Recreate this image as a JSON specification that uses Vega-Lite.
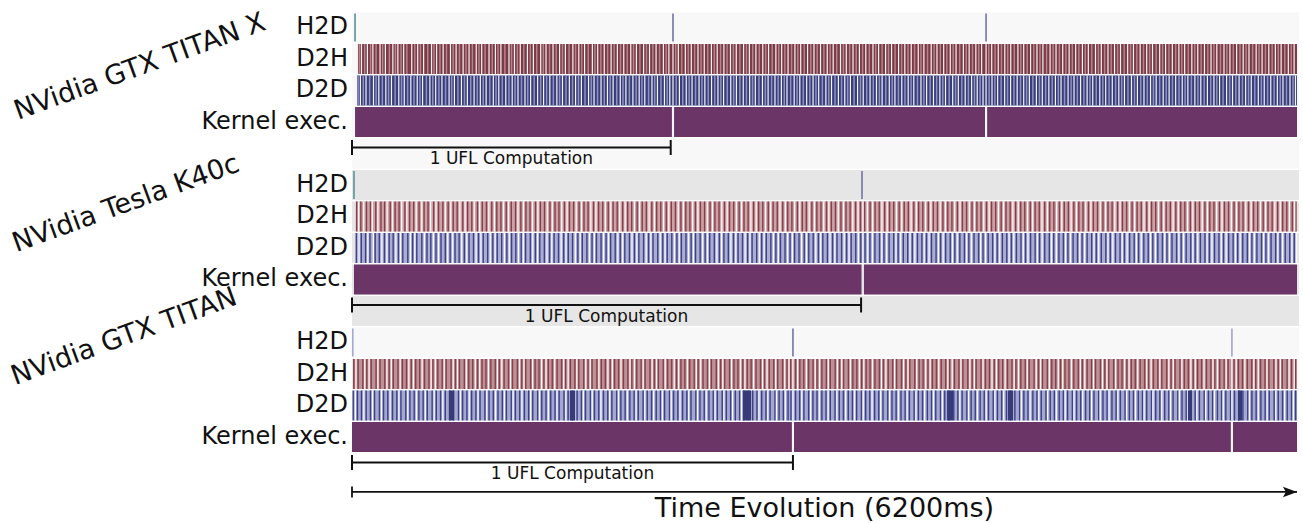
{
"$schema":"https://vega.github.io/schema/vega-lite/v6.json",
"width":945,"height":523,
"autosize":{"type":"none"},
"padding":{"left":352,"top":0,"right":6,"bottom":0},
"background":"white",
"config":{"view":{"stroke":null},"text":{"font":"DejaVu Sans","color":"#111111"}},
"datasets":{
"lanes":[
{"lane":"X:H2D","kind":"bg-light"},{"lane":"X:D2H","kind":"bg-light"},{"lane":"X:D2D","kind":"bg-light"},{"lane":"X:Kernel","kind":"bg-light"},{"lane":"X:UFL","kind":"bg-light"},
{"lane":"K:H2D","kind":"bg-gray"},{"lane":"K:D2H","kind":"bg-gray"},{"lane":"K:D2D","kind":"bg-gray"},{"lane":"K:Kernel","kind":"bg-gray"},{"lane":"K:UFL","kind":"bg-gray"},
{"lane":"T:H2D","kind":"bg-light"},{"lane":"T:D2H","kind":"bg-light"},{"lane":"T:D2D","kind":"bg-light"},{"lane":"T:Kernel","kind":"bg-light"}],
"spans":[
{"lane":"X:D2H","start":39,"end":6200,"kind":"d2h-x"},
{"lane":"X:D2D","start":33,"end":6200,"kind":"d2d-x"},
{"lane":"X:Kernel","start":20,"end":2099,"kind":"kernel"},
{"lane":"X:Kernel","start":2113,"end":4153,"kind":"kernel"},
{"lane":"X:Kernel","start":4167,"end":6200,"kind":"kernel"},
{"lane":"K:D2H","start":26,"end":6200,"kind":"d2h-k"},
{"lane":"K:D2D","start":26,"end":6200,"kind":"d2d-k"},
{"lane":"K:Kernel","start":13,"end":3343,"kind":"kernel"},
{"lane":"K:Kernel","start":3359,"end":6200,"kind":"kernel"},
{"lane":"T:D2H","start":5,"end":6200,"kind":"d2h-t"},
{"lane":"T:D2D","start":5,"end":6200,"kind":"d2d-t"},
{"lane":"T:Kernel","start":0,"end":2886,"kind":"kernel"},
{"lane":"T:Kernel","start":2900,"end":5766,"kind":"kernel"},
{"lane":"T:Kernel","start":5780,"end":6200,"kind":"kernel"}],
"blocks":[
{"lane":"T:D2D","start":636,"end":669,"kind":"d2d-block"},
{"lane":"T:D2D","start":1430,"end":1463,"kind":"d2d-block"},
{"lane":"T:D2D","start":2565,"end":2618,"kind":"d2d-block"},
{"lane":"T:D2D","start":3904,"end":3943,"kind":"d2d-block"},
{"lane":"T:D2D","start":4304,"end":4337,"kind":"d2d-block"},
{"lane":"T:D2D","start":5485,"end":5511,"kind":"d2d-block"},
{"lane":"T:D2D","start":5813,"end":5839,"kind":"d2d-block"}],
"h2d":[
{"lane":"X:H2D","t":20,"kind":"h2d-start"},{"lane":"X:H2D","t":2106,"kind":"h2d"},{"lane":"X:H2D","t":4160,"kind":"h2d"},
{"lane":"K:H2D","t":13,"kind":"h2d-start"},{"lane":"K:H2D","t":3346,"kind":"h2d"},
{"lane":"T:H2D","t":5,"kind":"h2d-faint"},{"lane":"T:H2D","t":2893,"kind":"h2d"},{"lane":"T:H2D","t":5773,"kind":"h2d-faint"}],
"labels":[
{"lane":"X:H2D","label":"H2D"},{"lane":"X:D2H","label":"D2H"},{"lane":"X:D2D","label":"D2D"},{"lane":"X:Kernel","label":"Kernel exec."},
{"lane":"K:H2D","label":"H2D"},{"lane":"K:D2H","label":"D2H"},{"lane":"K:D2D","label":"D2D"},{"lane":"K:Kernel","label":"Kernel exec."},
{"lane":"T:H2D","label":"H2D"},{"lane":"T:D2H","label":"D2H"},{"lane":"T:D2D","label":"D2D"},{"lane":"T:Kernel","label":"Kernel exec."}],
"brackets":[
{"lane":"X:UFL","start":0,"end":2091,"label":"1 UFL Computation"},
{"lane":"K:UFL","start":0,"end":3340,"label":"1 UFL Computation"},
{"lane":"T:UFL","start":0,"end":2893,"label":"1 UFL Computation"}],
"time":[{"lane":"Time","start":0,"end":6200,"label":"Time Evolution (6200ms)"}],
"x_d2h_white":[62,101,137,184,219,268,301,339,392,431,470,522,555,598,646,683,729,768,815,851,899,941,977,1030,1066,1104,1151,1190,1238,1273,1319,1362,1400,1449,1488,1526,1577,1612,1655,1700,1741,1783,1829,1866,1913,1952,1995,2043,2079,2106,2141,2187,2226,2270,2311,2358,2396,2440,2483,2521,2569,2607,2650,2695,2733,2781,2819,2861,2906,2944,2989,3031,3074,3118,3157,3205,3243,3287,3329,3371,3418,3455,3501,3540,3586,3627,3669,3715,3752,3800,3838,3882,3925,3963,4011,4049,4093,4131,4160,4197,4240,4283,4322,4369,4407,4452,4494,4533,4580,4619,4663,4705,4748,4792,4831,4878,4916,4960,5003,5042,5089,5127,5171,5214,5252,5299,5338,5382,5425,5463,5510,5549,5593,5636,5674,5721,5760,5804,5847,5885,5932,5971,6015,6058,6096,6143,6181],
"x_d2h_light":[48,83,122,158,201,245,285,322,360,412,449,497,538,577,620,664,705,748,790,833,873,920,958,1003,1047,1085,1127,1170,1212,1255,1296,1340,1381,1424,1467,1507,1550,1594,1633,1677,1720,1762,1806,1847,1889,1932,1974,2018,2061,2124,2163,2206,2248,2290,2334,2377,2418,2461,2502,2545,2588,2629,2672,2714,2757,2800,2840,2884,2925,2967,3010,3052,3096,3137,3180,3224,3265,3308,3350,3394,3436,3478,3520,3563,3606,3648,3691,3733,3776,3819,3860,3903,3944,3987,4030,4071,4112,4178,4219,4261,4302,4345,4388,4430,4473,4514,4557,4600,4641,4684,4726,4769,4811,4853,4897,4938,4981,5023,5066,5108,5149,5193,5233,5276,5318,5360,5404,5444,5487,5529,5571,5615,5655,5698,5740,5782,5826,5866,5909,5951,5993,6037,6077,6120,6162],
"x_d2d_white":[55,92,141,176,222,259,307,343,386,428,463,511,549,590,637,672,718,757,801,842,880,927,963,1009,1051,1089,1135,1172,1218,1257,1298,1344,1381,1426,1467,1505,1552,1588,1634,1676,1713,1760,1797,1843,1884,1921,1968,2004,2050,2085,2106,2148,2193,2231,2277,2315,2359,2401,2438,2485,2522,2567,2609,2646,2693,2730,2775,2817,2854,2901,2938,2983,3025,3062,3109,3146,3191,3233,3270,3317,3354,3399,3441,3478,3525,3562,3607,3649,3686,3733,3770,3815,3857,3894,3941,3978,4023,4065,4102,4140,4160,4199,4236,4282,4321,4364,4407,4444,4490,4529,4572,4615,4652,4698,4737,4780,4823,4860,4906,4945,4988,5031,5068,5114,5153,5196,5239,5276,5322,5361,5404,5447,5484,5530,5569,5612,5655,5692,5738,5777,5820,5863,5900,5946,5985,6028,6071,6108,6154,6190],
"x_d2d_light":[40,74,116,158,199,240,283,325,365,407,446,488,530,570,614,654,695,738,779,822,861,904,945,986,1030,1070,1112,1153,1195,1238,1277,1321,1362,1404,1447,1486,1529,1570,1611,1655,1694,1737,1778,1820,1864,1902,1946,1986,2027,2068,2127,2170,2212,2254,2296,2337,2380,2420,2462,2504,2545,2588,2628,2670,2712,2753,2796,2836,2878,2920,2961,3004,3044,3086,3128,3169,3212,3252,3294,3336,3377,3420,3460,3502,3544,3585,3628,3668,3710,3752,3793,3836,3876,3918,3960,4001,4044,4084,4121,4180,4218,4259,4301,4343,4386,4426,4467,4510,4551,4594,4634,4675,4718,4759,4802,4842,4883,4926,4967,5010,5050,5091,5134,5175,5218,5258,5299,5342,5383,5426,5466,5507,5550,5591,5634,5674,5715,5758,5799,5842,5882,5923,5966,6007,6050,6090,6131,6174],
"k_d2h_dark":[30,58,95,121,156,190,214,251,283,309,347,378,405,440,473,499,536,568,596,631,664,690,727,759,786,823,855,882,917,950,977,1012,1045,1073,1108,1141,1168,1204,1236,1263,1299,1332,1358,1394,1427,1454,1490,1522,1549,1585,1618,1645,1681,1713,1740,1776,1809,1835,1871,1904,1931,1967,1999,2026,2062,2095,2122,2158,2190,2217,2253,2286,2313,2349,2381,2408,2444,2477,2504,2540,2572,2599,2635,2668,2695,2731,2763,2790,2826,2859,2886,2922,2954,2981,3017,3050,3077,3113,3145,3172,3208,3241,3268,3304,3336,3363,3399,3432,3459,3495,3527,3554,3590,3623,3650,3686,3718,3745,3781,3814,3841,3877,3909,3936,3972,4005,4032,4068,4100,4127,4163,4196,4223,4259,4291,4318,4354,4387,4414,4450,4482,4509,4545,4578,4605,4641,4673,4700,4736,4769,4796,4832,4864,4891,4927,4960,4987,5023,5055,5082,5118,5151,5178,5214,5246,5273,5309,5342,5369,5405,5437,5464,5500,5533,5560,5596,5628,5655,5691,5724,5751,5787,5819,5846,5882,5915,5942,5978,6010,6037,6073,6106,6133,6169,6192],
"k_d2h_white":[44,77,133,170,230,266,326,360,421,458,516,551,612,648,708,742,802,838,898,934,994,1027,1089,1125,1184,1220,1281,1314,1376,1411,1471,1506,1567,1600,1662,1698,1757,1792,1853,1887,1949,1984,2044,2079,2140,2174,2235,2270,2331,2365,2426,2461,2522,2556,2617,2652,2713,2747,2808,2843,2904,2938,2999,3034,3095,3129,3190,3225,3286,3320,3352,3381,3416,3477,3511,3572,3607,3668,3702,3763,3798,3859,3893,3954,3989,4050,4084,4145,4180,4241,4275,4336,4371,4432,4466,4527,4562,4623,4657,4718,4753,4814,4848,4909,4944,5005,5039,5100,5135,5196,5230,5291,5326,5387,5421,5482,5517,5578,5612,5673,5708,5769,5803,5864,5899,5960,5994,6055,6090,6150,6185],
"k_d2d_dark":[28,61,89,118,152,179,213,244,270,305,333,366,398,425,458,492,517,551,584,612,644,676,703,737,768,797,830,861,890,924,953,982,1016,1047,1075,1110,1139,1170,1203,1232,1262,1296,1326,1355,1389,1419,1447,1482,1511,1541,1575,1604,1634,1667,1697,1727,1760,1790,1820,1853,1882,1913,1946,1975,2006,2039,2068,2098,2132,2161,2191,2225,2254,2284,2317,2347,2377,2410,2440,2469,2503,2533,2562,2596,2625,2655,2688,2718,2748,2781,2811,2841,2874,2904,2933,2967,2997,3026,3060,3089,3119,3153,3182,3212,3245,3275,3305,3338,3366,3398,3431,3461,3490,3524,3554,3583,3617,3646,3676,3710,3739,3769,3802,3832,3862,3895,3925,3955,3988,4018,4047,4081,4111,4140,4174,4203,4233,4267,4296,4326,4359,4389,4419,4452,4482,4511,4545,4575,4604,4638,4667,4697,4731,4760,4790,4823,4853,4883,4916,4946,4975,5009,5039,5068,5102,5132,5161,5195,5224,5254,5287,5317,5347,5380,5410,5440,5473,5503,5532,5566,5596,5625,5659,5688,5718,5752,5781,5811,5844,5874,5904,5937,5967,5996,6030,6060,6089,6123,6152,6182],
"k_d2d_white":[46,104,140,196,229,288,318,383,412,475,534,568,628,661,720,753,814,846,907,939,1000,1032,1092,1124,1186,1218,1279,1311,1372,1404,1465,1497,1558,1590,1651,1683,1744,1776,1837,1869,1930,1961,2022,2054,2115,2147,2208,2240,2301,2332,2394,2425,2486,2518,2579,2611,2672,2704,2765,2797,2858,2889,2950,2982,3043,3075,3136,3168,3229,3261,3322,3352,3384,3415,3476,3508,3569,3600,3661,3693,3754,3786,3847,3878,3940,3971,4032,4064,4125,4157,4218,4250,4311,4342,4404,4435,4496,4528,4589,4621,4682,4714,4775,4807,4868,4899,4960,4992,5053,5085,5146,5178,5239,5271,5332,5363,5425,5456,5517,5549,5610,5642,5703,5735,5796,5827,5889,5920,5981,6013,6074,6106,6167,6196],
"t_d2h_dark":[12,40,71,97,126,158,184,215,244,271,302,331,357,389,418,444,476,505,531,563,592,618,650,679,705,737,766,792,824,853,879,911,940,966,998,1027,1053,1085,1114,1140,1172,1201,1227,1259,1288,1314,1346,1375,1401,1433,1462,1488,1520,1549,1575,1607,1636,1662,1694,1723,1749,1781,1810,1836,1868,1897,1923,1955,1984,2010,2042,2071,2097,2129,2158,2184,2216,2245,2271,2303,2332,2358,2390,2419,2445,2477,2506,2532,2564,2593,2619,2651,2680,2706,2738,2767,2793,2825,2854,2878,2910,2938,2964,2996,3025,3051,3083,3112,3138,3170,3199,3225,3257,3286,3312,3344,3373,3399,3431,3460,3486,3518,3547,3573,3605,3634,3660,3692,3721,3747,3779,3808,3834,3866,3895,3921,3953,3982,4008,4040,4069,4095,4127,4156,4182,4214,4243,4269,4301,4330,4356,4388,4417,4443,4475,4504,4530,4562,4591,4617,4649,4678,4704,4736,4765,4791,4823,4852,4878,4910,4939,4965,4997,5026,5052,5084,5113,5139,5171,5200,5226,5258,5287,5313,5345,5374,5400,5432,5461,5487,5519,5548,5574,5606,5635,5661,5693,5722,5748,5787,5816,5842,5874,5903,5929,5961,5990,6016,6048,6077,6103,6135,6164,6190],
"t_d2h_white":[26,84,112,170,229,258,316,373,403,460,519,547,605,664,692,750,809,838,895,954,983,1040,1099,1128,1185,1244,1273,1330,1389,1418,1475,1534,1563,1620,1679,1708,1765,1824,1853,1910,1969,1998,2055,2114,2143,2200,2259,2288,2345,2404,2433,2490,2549,2578,2635,2694,2723,2780,2839,2867,2893,2924,2981,3039,3068,3125,3184,3213,3270,3329,3358,3415,3474,3503,3560,3619,3648,3705,3764,3793,3850,3909,3938,3995,4054,4083,4140,4199,4228,4285,4344,4373,4430,4489,4518,4575,4634,4663,4720,4779,4808,4865,4924,4953,5010,5069,5098,5155,5214,5243,5300,5359,5388,5445,5504,5533,5590,5649,5678,5735,5773,5801,5858,5917,5946,6003,6062,6091,6148,6182],
"t_d2d_dark":[8,36,62,93,121,148,180,207,235,266,294,321,353,380,408,439,467,494,526,553,581,612,640,667,699,726,754,785,813,840,872,899,927,958,986,1013,1045,1072,1100,1131,1159,1186,1218,1245,1273,1304,1332,1359,1391,1418,1446,1477,1505,1532,1564,1591,1619,1650,1678,1705,1737,1764,1792,1823,1851,1878,1910,1937,1965,1996,2024,2051,2083,2110,2138,2169,2197,2224,2256,2283,2311,2342,2370,2397,2429,2456,2484,2515,2543,2570,2602,2629,2657,2688,2716,2743,2775,2802,2830,2861,2880,2910,2937,2965,2996,3024,3051,3083,3110,3138,3169,3197,3224,3256,3283,3311,3342,3370,3397,3429,3456,3484,3515,3543,3570,3602,3629,3657,3688,3716,3743,3775,3802,3830,3861,3889,3916,3948,3975,4003,4034,4062,4089,4121,4148,4176,4207,4235,4262,4294,4321,4349,4380,4408,4435,4467,4494,4522,4553,4581,4608,4640,4667,4695,4726,4754,4781,4813,4840,4868,4899,4927,4954,4986,5013,5041,5072,5100,5127,5159,5186,5214,5245,5273,5300,5332,5359,5387,5418,5446,5473,5505,5532,5560,5591,5619,5646,5678,5705,5733,5764,5790,5818,5845,5877,5904,5932,5963,5991,6018,6050,6077,6105,6136,6164,6191],
"t_d2d_white":[22,78,135,193,250,308,366,423,481,539,596,654,711,769,827,884,942,1000,1057,1115,1172,1230,1288,1345,1403,1460,1518,1576,1633,1691,1748,1806,1864,1921,1979,2036,2094,2152,2209,2267,2324,2382,2440,2497,2555,2612,2670,2728,2785,2843,2893,2951,3009,3066,3124,3181,3239,3297,3354,3412,3469,3527,3585,3642,3700,3757,3815,3873,3930,3988,4045,4103,4161,4218,4276,4333,4391,4449,4506,4564,4621,4679,4737,4794,4852,4909,4967,5025,5082,5140,5197,5255,5313,5370,5428,5485,5543,5601,5658,5716,5773,5831,5888,5946,6004,6061,6119,6176]
},
"layer":[
{"data":{"name":"lanes"},"mark":{"type":"rect"},
 "encoding":{
  "x":{"datum":0,"type":"quantitative","scale":{"domain":[0,6200],"nice":false,"zero":false},"axis":null},
  "x2":{"datum":6213},
  "y":{"field":"lane","type":"nominal","axis":null,"scale":{"type":"band","domain":["X:H2D","X:D2H","X:D2D","X:Kernel","X:UFL","K:H2D","K:D2H","K:D2D","K:Kernel","K:UFL","T:H2D","T:D2H","T:D2D","T:Kernel","T:UFL","Time"],"paddingInner":0.05,"paddingOuter":0.3265,"align":0.6075}},
  "color":{"field":"kind","type":"nominal","legend":null,"scale":{"domain":["bg-light","bg-gray","d2h-x","d2d-x","d2h-k","d2d-k","d2h-t","d2d-t","kernel","h2d-start","h2d","h2d-faint","d2d-block"],"range":["#f8f8f8","#e6e6e6","#7b3a45","#393e7b","#c8a4a8","#abadd1","#bb9297","#a5a8ce","#6b3567","#5f979e","#7a7aad","#a9a9cf","#363a78"]}}}},
{"data":{"name":"spans"},"mark":{"type":"rect"},
 "encoding":{"x":{"field":"start","type":"quantitative","axis":null},"x2":{"field":"end"},"y":{"field":"lane","type":"nominal","axis":null},"color":{"field":"kind","type":"nominal","legend":null}}},
{"data":{"name":"x_d2h_light"},"mark":{"type":"tick","color":"#b3868c","thickness":1.5,"size":30,"opacity":1},"encoding":{"x":{"field":"data","type":"quantitative","axis":null},"y":{"datum":"X:D2H","type":"nominal","axis":null}}},
{"data":{"name":"x_d2h_white"},"mark":{"type":"tick","color":"#ffffff","thickness":1.2,"size":30,"opacity":0.95},"encoding":{"x":{"field":"data","type":"quantitative","axis":null},"y":{"datum":"X:D2H","type":"nominal","axis":null}}},
{"data":{"name":"x_d2d_light"},"mark":{"type":"tick","color":"#9093c1","thickness":1.5,"size":30,"opacity":1},"encoding":{"x":{"field":"data","type":"quantitative","axis":null},"y":{"datum":"X:D2D","type":"nominal","axis":null}}},
{"data":{"name":"x_d2d_white"},"mark":{"type":"tick","color":"#ffffff","thickness":1.2,"size":30,"opacity":0.95},"encoding":{"x":{"field":"data","type":"quantitative","axis":null},"y":{"datum":"X:D2D","type":"nominal","axis":null}}},
{"data":{"name":"k_d2h_dark"},"mark":{"type":"tick","color":"#8b3c48","thickness":1.4,"size":30,"opacity":1},"encoding":{"x":{"field":"data","type":"quantitative","axis":null},"y":{"datum":"K:D2H","type":"nominal","axis":null}}},
{"data":{"name":"k_d2h_white"},"mark":{"type":"tick","color":"#ffffff","thickness":1.3,"size":30,"opacity":0.95},"encoding":{"x":{"field":"data","type":"quantitative","axis":null},"y":{"datum":"K:D2H","type":"nominal","axis":null}}},
{"data":{"name":"k_d2d_dark"},"mark":{"type":"tick","color":"#3d4188","thickness":1.4,"size":30,"opacity":1},"encoding":{"x":{"field":"data","type":"quantitative","axis":null},"y":{"datum":"K:D2D","type":"nominal","axis":null}}},
{"data":{"name":"k_d2d_white"},"mark":{"type":"tick","color":"#ffffff","thickness":1.3,"size":30,"opacity":0.95},"encoding":{"x":{"field":"data","type":"quantitative","axis":null},"y":{"datum":"K:D2D","type":"nominal","axis":null}}},
{"data":{"name":"t_d2h_dark"},"mark":{"type":"tick","color":"#883f4a","thickness":1.4,"size":30,"opacity":1},"encoding":{"x":{"field":"data","type":"quantitative","axis":null},"y":{"datum":"T:D2H","type":"nominal","axis":null}}},
{"data":{"name":"t_d2h_white"},"mark":{"type":"tick","color":"#ffffff","thickness":1.3,"size":30,"opacity":0.95},"encoding":{"x":{"field":"data","type":"quantitative","axis":null},"y":{"datum":"T:D2H","type":"nominal","axis":null}}},
{"data":{"name":"t_d2d_dark"},"mark":{"type":"tick","color":"#3c4089","thickness":1.4,"size":30,"opacity":1},"encoding":{"x":{"field":"data","type":"quantitative","axis":null},"y":{"datum":"T:D2D","type":"nominal","axis":null}}},
{"data":{"name":"t_d2d_white"},"mark":{"type":"tick","color":"#ffffff","thickness":1.3,"size":30,"opacity":0.95},"encoding":{"x":{"field":"data","type":"quantitative","axis":null},"y":{"datum":"T:D2D","type":"nominal","axis":null}}},
{"data":{"name":"blocks"},"mark":{"type":"rect"},
 "encoding":{"x":{"field":"start","type":"quantitative","axis":null},"x2":{"field":"end"},"y":{"field":"lane","type":"nominal","axis":null},"color":{"field":"kind","type":"nominal","legend":null}}},
{"data":{"name":"h2d"},"mark":{"type":"tick","thickness":1.7,"size":28,"opacity":1},
 "encoding":{"x":{"field":"t","type":"quantitative","axis":null},"y":{"field":"lane","type":"nominal","axis":null},"color":{"field":"kind","type":"nominal","legend":null}}},
{"data":{"name":"brackets"},"mark":{"type":"rule","color":"#111111","strokeWidth":2},
 "encoding":{"x":{"field":"start","type":"quantitative","axis":null},"x2":{"field":"end"},"y":{"field":"lane","type":"nominal","axis":null,"bandPosition":0.3}}},
{"data":{"name":"brackets"},"transform":[{"fold":["start","end"],"as":["k","v"]}],"mark":{"type":"point","shape":"M0,-1L0,1","size":225,"filled":false,"stroke":"#111111","strokeWidth":2,"opacity":1},
 "encoding":{"x":{"field":"v","type":"quantitative","axis":null},"y":{"field":"lane","type":"nominal","axis":null,"bandPosition":0.3}}},
{"data":{"name":"brackets"},"transform":[{"fold":["start","end"],"as":["k","v"]}],"mark":{"type":"text","fontSize":17,"align":"center","baseline":"middle"},
 "encoding":{"x":{"aggregate":"mean","field":"v","type":"quantitative","axis":null},"y":{"field":"lane","type":"nominal","axis":null,"bandPosition":0.69},"text":{"field":"label","type":"nominal"}}},
{"data":{"name":"labels"},"mark":{"type":"text","fontSize":24,"align":"right","baseline":"middle","dx":-4},
 "encoding":{"x":{"datum":0,"type":"quantitative","axis":null},"y":{"field":"lane","type":"nominal","axis":null},"text":{"field":"label","type":"nominal"}}},
{"data":{"values":[{"lane":"X:D2H","gpu":"NVidia GTX TITAN X"}]},"mark":{"type":"text","fontSize":27.2,"angle":-20,"align":"center","baseline":"middle"},
 "encoding":{"x":{"datum":-1391,"type":"quantitative","axis":null},"y":{"field":"lane","type":"nominal","axis":null,"bandPosition":0.77},"text":{"field":"gpu","type":"nominal"}}},
{"data":{"values":[{"lane":"K:D2H","gpu":"NVidia Tesla K40c"}]},"mark":{"type":"text","fontSize":27.2,"angle":-20,"align":"center","baseline":"middle"},
 "encoding":{"x":{"datum":-1483,"type":"quantitative","axis":null},"y":{"field":"lane","type":"nominal","axis":null,"bandPosition":0.08},"text":{"field":"gpu","type":"nominal"}}},
{"data":{"values":[{"lane":"T:H2D","gpu":"NVidia GTX TITAN"}]},"mark":{"type":"text","fontSize":27.2,"angle":-20,"align":"center","baseline":"middle"},
 "encoding":{"x":{"datum":-1496,"type":"quantitative","axis":null},"y":{"field":"lane","type":"nominal","axis":null,"bandPosition":0.32},"text":{"field":"gpu","type":"nominal"}}},
{"data":{"name":"time"},"mark":{"type":"rule","color":"#111111","strokeWidth":1.8},
 "encoding":{"x":{"field":"start","type":"quantitative","axis":null},"x2":{"field":"end"},"y":{"field":"lane","type":"nominal","axis":null,"bandPosition":0.23}}},
{"data":{"name":"time"},"mark":{"type":"point","shape":"M0,-1L0,1","size":121,"filled":false,"stroke":"#111111","strokeWidth":1.8,"opacity":1},
 "encoding":{"x":{"field":"start","type":"quantitative","axis":null},"y":{"field":"lane","type":"nominal","axis":null,"bandPosition":0.23}}},
{"data":{"name":"time"},"mark":{"type":"point","shape":"M0,0L-2,-0.75L-1.6,0L-2,0.75Z","size":196,"filled":true,"color":"#111111","opacity":1,"strokeWidth":0},
 "encoding":{"x":{"field":"end","type":"quantitative","axis":null},"y":{"field":"lane","type":"nominal","axis":null,"bandPosition":0.23}}},
{"data":{"name":"time"},"transform":[{"fold":["start","end"],"as":["k","v"]}],"mark":{"type":"text","fontSize":27,"align":"center","baseline":"middle"},
 "encoding":{"x":{"aggregate":"mean","field":"v","type":"quantitative","axis":null},"y":{"field":"lane","type":"nominal","axis":null,"bandPosition":0.8},"text":{"field":"label","type":"nominal"}}}
]
}
